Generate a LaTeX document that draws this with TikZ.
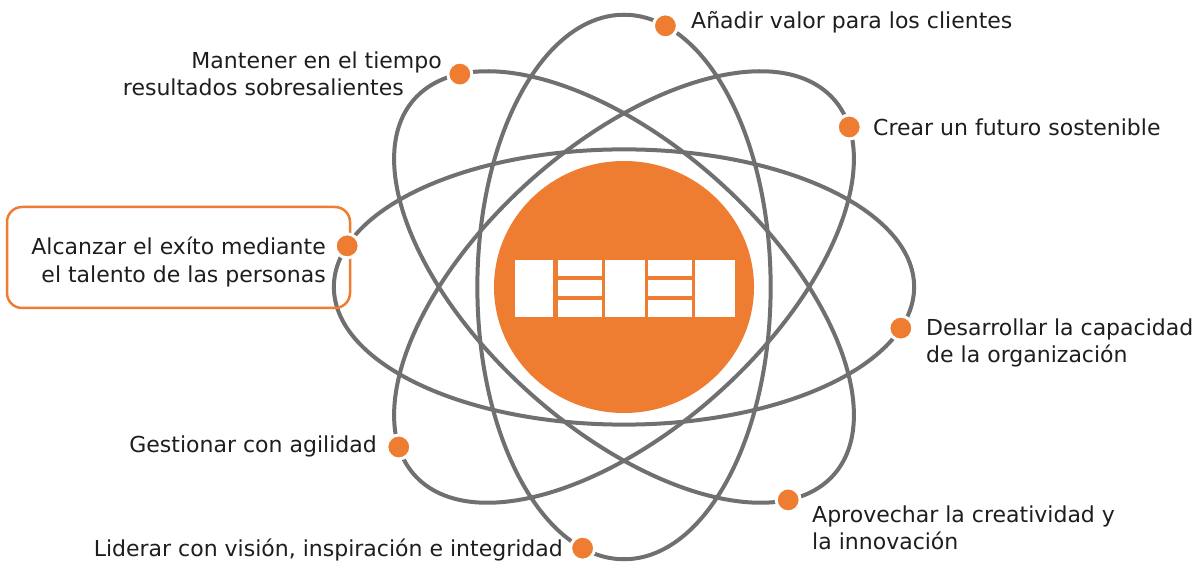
\documentclass[tikz,border=0pt]{standalone}
\usepackage{fontspec}
\setmainfont{DejaVu Sans}
\definecolor{orng}{HTML}{EE7D31}
\definecolor{orb}{HTML}{707070}
\definecolor{txt}{HTML}{1E1E1E}
\begin{document}
\begin{tikzpicture}[x=1pt,y=1pt,
  orbit/.style={draw=orb, line width=4pt},
  dot/.style={circle, fill=orng, draw=white, line width=3pt, minimum size=24pt, inner sep=0pt},
  lbl/.style={font=\fontsize{22}{28}\selectfont, text=txt, inner sep=0pt},
  frame/.style={draw=orng, line width=2.5pt, rounded corners=15pt},
  block/.style={fill=white}]
\useasboundingbox (0,0) rectangle (1198,567);
\fill[white] (0,0) rectangle (1198,567);

% orbits
\begin{scope}[shift={(624,280)}, xscale=1.055, yscale=0.99]
  \foreach \a in {0,45,90,135}
    \draw[orbit, rotate=\a] (0,0) ellipse [x radius=275, y radius=139];
\end{scope}

% highlight frame
\draw[frame] (7,259) rectangle (350,360);

% dots on the orbits
\begin{scope}[shift={(624,280)}, xscale=1.055, yscale=0.99]
  \begin{scope}[rotate=0]
    \node[dot] (ddes) at ({275*cos(-17.4)},{139*sin(-17.4)}) {};
    \node[dot] (dalc) at ({275*cos(162.6)},{139*sin(162.6)}) {};
  \end{scope}
  \begin{scope}[rotate=45]
    \node[dot] (dcre) at ({275*cos(-15.3)},{139*sin(-15.3)}) {};
    \node[dot] (dges) at ({275*cos(164.7)},{139*sin(164.7)}) {};
  \end{scope}
  \begin{scope}[rotate=90]
    \node[dot] (dana) at ({275*cos(-16.4)},{139*sin(-16.4)}) {};
    \node[dot] (dlid) at ({275*cos(163.6)},{139*sin(163.6)}) {};
  \end{scope}
  \begin{scope}[rotate=135]
    \node[dot] (dman) at ({275*cos(-17.6)},{139*sin(-17.6)}) {};
    \node[dot] (dapr) at ({275*cos(162.4)},{139*sin(162.4)}) {};
  \end{scope}
\end{scope}

% central emblem
\fill[orng] (624,280) ellipse [x radius=130, y radius=126];
\fill[block] (515,250.3) rectangle (553.3,307);
\fill[block] (558.3,291.3) rectangle (601.7,307);
\fill[block] (558.3,271.3) rectangle (601.7,287);
\fill[block] (558.3,250.3) rectangle (601.7,267);
\fill[block] (605,250.3) rectangle (645,307);
\fill[block] (648.3,291.3) rectangle (691.7,307);
\fill[block] (648.3,271.3) rectangle (691.7,287);
\fill[block] (648.3,250.3) rectangle (691.7,267);
\fill[block] (695,250.3) rectangle (735,307);

% labels
\node[lbl, anchor=base west] (lana) at (691,538) {Añadir valor para los clientes};
\node[lbl, anchor=base east] (lman1) at (442,498) {Mantener en el tiempo};
\node[lbl, anchor=base east] (lman2) at (404,471) {resultados sobresalientes};
\node[lbl, anchor=base west] (lcre) at (873,431) {Crear un futuro sostenible};
\node[lbl, anchor=base east] (lalc1) at (326,312) {Alcanzar el exíto mediante};
\node[lbl, anchor=base east] (lalc2) at (326,284) {el talento de las personas};
\node[lbl, anchor=base west] (ldes1) at (926,231) {Desarrollar la capacidad};
\node[lbl, anchor=base west] (ldes2) at (926,204) {de la organización};
\node[lbl, anchor=base east] (lges) at (377,114) {Gestionar con agilidad};
\node[lbl, anchor=base west] (lapr1) at (812,45) {Aprovechar la creatividad y};
\node[lbl, anchor=base west] (lapr2) at (812,18) {la innovación};
\node[lbl, anchor=base east] (llid) at (563,10) {Liderar con visión, inspiración e integridad};
\end{tikzpicture}
\end{document}
